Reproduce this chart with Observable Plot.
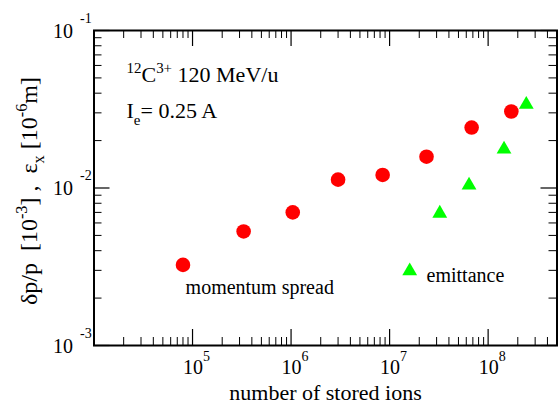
<!DOCTYPE html>
<html><head><meta charset="utf-8">
<script src="https://cdn.jsdelivr.net/npm/d3@7"></script>
<script src="https://cdn.jsdelivr.net/npm/@observablehq/plot@0.6"></script>
<style>html,body{margin:0;padding:0;background:#fff} svg{display:block} svg text, svg tspan{font-family:"Liberation Serif","Times New Roman",serif !important}</style>
</head><body><div id="chart"></div>
<script>
// ---- data ----
const spreadIons   = [8.0e4, 3.3e5, 1.04e6, 3.0e6, 8.5e6, 2.37e7, 6.8e7, 1.72e8];
const spreadValues = [3.25e-3, 5.3e-3, 7.0e-3, 1.13e-2, 1.21e-2, 1.58e-2, 2.42e-2, 3.06e-2];
const emitIons     = [1.6e7, 3.23e7, 6.4e7, 1.45e8, 2.44e8];
const emitValues   = [2.97e-3, 6.9e-3, 1.04e-2, 1.76e-2, 3.39e-2];

// ---- axes / tick labels ----
const xDomain = [1e4, 5e8];
const yDomain = [1e-3, 1e-1];
const xDecades = [1e4, 1e5, 1e6, 1e7, 1e8];
const yDecades = [1e-3, 1e-2, 1e-1];
const minorMultipliers = [2, 3, 4, 5, 6, 7, 8, 9];
const xLabelValues = [1e5, 1e6, 1e7, 1e8];
const xLabelExps = ["5", "6", "7", "8"];
const yLabelValues = [1e-3, 1e-2, 1e-1];
const yLabelExps = ["-3", "-2", "-1"];
const labelBase = "10";

const xMinor = xDecades.flatMap(d => minorMultipliers.map(m => d * m)).filter(v => v < xDomain[1]);
const yMinor = yDecades.slice(0, 2).flatMap(d => minorMultipliers.map(m => d * m));

const spread = spreadIons.map((x, i) => ({x, y: spreadValues[i]}));
const emit = emitIons.map((x, i) => ({x, y: emitValues[i]}));

const W = 558, H = 403, mL = 93.5, mR = 1.5, mT = 30, mB = 58;
const fw = W - mL - mR, fh = H - mT - mB;
const font = "'Liberation Serif', 'Times New Roman', serif";
const majorLen = 16, minorLen = 8;
const txt = {fontFamily: font, fill: "black"};

const chart = Plot.plot({
  width: W, height: H,
  marginLeft: mL, marginRight: mR, marginTop: mT, marginBottom: mB,
  style: {fontFamily: font, background: "white", color: "black"},
  x: {type: "log", domain: xDomain, axis: null},
  y: {type: "log", domain: yDomain, axis: null},
  marks: [
    // ticks inward on all four sides
    Plot.tickX(xDecades, {x: d => d, insetTop: fh - majorLen, stroke: "black", strokeWidth: 1.2}),
    Plot.tickX(xMinor, {x: d => d, insetTop: fh - minorLen, stroke: "black", strokeWidth: 1}),
    Plot.tickX(xDecades, {x: d => d, insetBottom: fh - majorLen, stroke: "black", strokeWidth: 1.2}),
    Plot.tickX(xMinor, {x: d => d, insetBottom: fh - minorLen, stroke: "black", strokeWidth: 1}),
    Plot.tickY(yDecades, {y: d => d, insetRight: fw - majorLen, stroke: "black", strokeWidth: 1.2}),
    Plot.tickY(yMinor, {y: d => d, insetRight: fw - minorLen, stroke: "black", strokeWidth: 1}),
    Plot.tickY(yDecades, {y: d => d, insetLeft: fw - majorLen, stroke: "black", strokeWidth: 1.2}),
    Plot.tickY(yMinor, {y: d => d, insetLeft: fw - minorLen, stroke: "black", strokeWidth: 1}),
    Plot.frame({stroke: "black", strokeWidth: 2}),
    // tick labels
    Plot.text(xLabelValues, {...txt, x: d => d, frameAnchor: "bottom", text: () => labelBase, dy: 28, dx: 0.5,
      lineAnchor: "bottom", textAnchor: "middle", fontSize: 20}),
    Plot.text(xLabelValues, {...txt, x: d => d, frameAnchor: "bottom", text: (d, i) => xLabelExps[i], dy: 15, dx: 10.5,
      lineAnchor: "bottom", textAnchor: "start", fontSize: 14}),
    Plot.text(yLabelValues, {...txt, y: d => d, frameAnchor: "left", text: () => labelBase, dx: -21, dy: 7,
      lineAnchor: "bottom", textAnchor: "end", fontSize: 20}),
    Plot.text(yLabelValues, {...txt, y: d => d, frameAnchor: "left", text: (d, i) => yLabelExps[i], dx: -14, dy: -8,
      lineAnchor: "bottom", textAnchor: "start", fontSize: 14}),
    // x axis title
    Plot.text(["number of stored ions"], {...txt, frameAnchor: "bottom", text: d => d, dy: 54,
      lineAnchor: "bottom", textAnchor: "middle", fontSize: 22}),
    // data
    Plot.dot(spread, {x: "x", y: "y", r: 7.3, fill: "#ff0000"}),
    Plot.dot(emit, {x: "x", y: "y", r: 5.5, symbol: "triangle", fill: "#00ff00"}),
    // series labels
    Plot.text(["momentum spread"], {...txt, x: () => 8.5e4, y: () => 2.11e-3, text: d => d,
      textAnchor: "start", lineAnchor: "bottom", fontSize: 20}),
    Plot.text(["emittance"], {...txt, x: () => 2.37e7, y: () => 2.52e-3, text: d => d,
      textAnchor: "start", lineAnchor: "bottom", fontSize: 20})
  ]
});
document.getElementById("chart").appendChild(chart);

// rich text (super/subscripts) as real SVG text with tspans
function richText(svg, parts, {x, y, size, rotate = 0, anchor = "start"}) {
  const t = d3.select(svg).append("text")
    .attr("transform", `translate(${x},${y}) rotate(${rotate})`)
    .attr("text-anchor", anchor)
    .attr("font-size", size)
    .attr("fill", "black");
  let prev = 0;
  for (const p of parts) {
    const shift = p.sup ? -0.42 * size : p.sub ? 0.3 * size : 0;
    t.append("tspan")
      .attr("dy", shift - prev)
      .attr("font-size", (p.sup || p.sub) ? size * 0.68 : size)
      .text(p.t);
    prev = shift;
  }
  return t;
}
const yTitleParts = [
  {t: "\u03b4p/p  [10"}, {t: "-3", sup: true}, {t: "] ,  \u03b5"}, {t: "x", sub: true},
  {t: " [10"}, {t: "-6", sup: true}, {t: "m]"}
];
const ionParts = [{t: "12", sup: true}, {t: "C"}, {t: "3+", sup: true}, {t: " 120 MeV/u"}];
const currentParts = [{t: "I"}, {t: "e", sub: true}, {t: "= 0.25 A"}];
richText(chart, yTitleParts, {x: 37, y: 191, size: 24, rotate: -90, anchor: "middle"});
richText(chart, ionParts, {x: 126.5, y: 82.3, size: 22});
richText(chart, currentParts, {x: 126.5, y: 118, size: 22});
d3.select(chart).selectAll("text, tspan").style("font-family", font).style("white-space", "pre");
</script>
</body></html>
